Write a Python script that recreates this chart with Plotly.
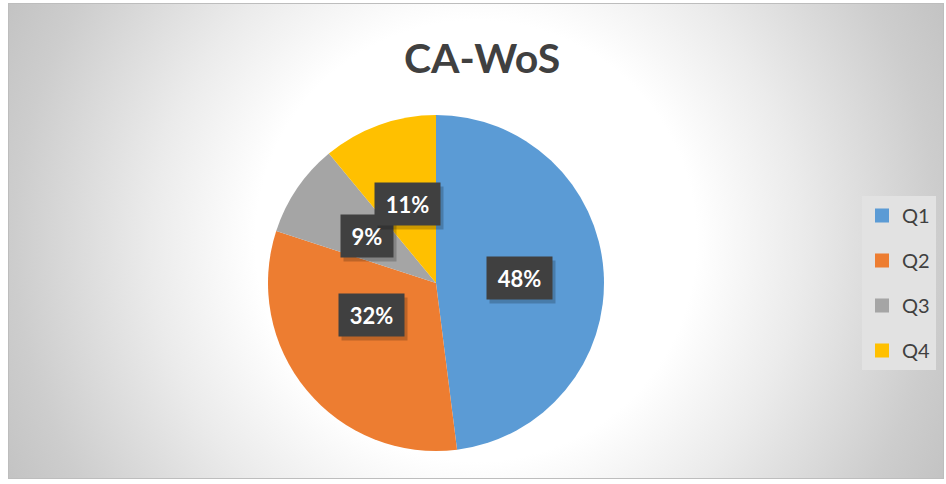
import base64
import math
import plotly.graph_objects as go

# ---------------- data ----------------
title_text = "CA-WoS"
categories = ["Q1", "Q2", "Q3", "Q4"]
values = [48, 32, 9, 11]
label_texts = ["48%", "32%", "9%", "11%"]
colors = ["#5B9BD5", "#ED7D31", "#A5A5A5", "#FFC000"]

# ---------------- layout constants ----------------
W, H = 946, 484
CX, CY, R = 436, 283, 168  # pie centre / radius in pixels

# radial gradient background as svg
svg = f'''<svg xmlns="http://www.w3.org/2000/svg" width="936" height="476" viewBox="0 0 936 476">
<defs><radialGradient id="g" gradientUnits="userSpaceOnUse" cx="468" cy="238" r="525">
<stop offset="0" stop-color="#ffffff"/>
<stop offset="0.42" stop-color="#ffffff"/>
<stop offset="0.62" stop-color="#ebebeb"/>
<stop offset="0.88" stop-color="#cdcdcd"/>
<stop offset="1" stop-color="#c3c3c3"/>
</radialGradient></defs>
<rect x="0.5" y="0.5" width="935" height="475" fill="url(#g)" stroke="#bdbdbd" stroke-width="1"/>
</svg>'''
svg_uri = "data:image/svg+xml;base64," + base64.b64encode(svg.encode()).decode()

fig = go.Figure()

fig.add_trace(go.Pie(
    labels=categories,
    values=values,
    sort=False,
    direction="clockwise",
    rotation=0,
    marker=dict(colors=colors, line=dict(width=0)),
    textinfo="none",
    hoverinfo="label+percent",
    showlegend=False,
    domain=dict(x=[(CX - R) / W, (CX + R) / W], y=[(H - CY - R) / H, (H - CY + R) / H]),
))

# legend entries (one group each to get Excel-like spacing)
for cat, col in zip(categories, colors):
    fig.add_trace(go.Scatter(
        x=[None], y=[None], mode="markers", name=cat, legendgroup=cat,
        marker=dict(symbol="square", size=14, color=col),
        showlegend=True, hoverinfo="skip",
    ))

annotations = []
total = sum(values)
cum = 0.0
for v, txt in zip(values, label_texts):
    mid = (cum + v / 2) / total * 2 * math.pi
    cum += v
    px = CX + 0.5 * R * math.sin(mid)
    py = CY - 0.5 * R * math.cos(mid)
    w = 24 + 13 * len(txt)
    # shadow
    annotations.append(dict(
        x=px / W, y=1 - py / H, xref="paper", yref="paper", text=" ",
        showarrow=False, width=w, height=40, bgcolor="rgba(0,0,0,0.2)",
        xshift=3, yshift=-4, font=dict(size=20),
    ))
    annotations.append(dict(
        x=px / W, y=1 - py / H, xref="paper", yref="paper",
        text=f"<b>{txt}</b>", showarrow=False, width=w, height=40,
        bgcolor="#404040", font=dict(family="Lato", size=22, color="#ffffff"),
    ))

annotations.append(dict(
    x=481.5 / W, y=1 - 57 / H, xref="paper", yref="paper", xanchor="center", yanchor="middle",
    text=f"<b>{title_text}</b>", showarrow=False,
    font=dict(family="Lato", size=41, color="#404040"),
))

fig.update_layout(
    width=W, height=H,
    margin=dict(l=0, r=0, t=0, b=0),
    paper_bgcolor="#ffffff",
    plot_bgcolor="rgba(0,0,0,0)",
    xaxis=dict(visible=False),
    yaxis=dict(visible=False),
    images=[dict(source=svg_uri, xref="paper", yref="paper", x=8 / W, y=1 - 3 / H,
                 sizex=936 / W, sizey=476 / H, xanchor="left", yanchor="top",
                 sizing="stretch", layer="below")],
    annotations=annotations,
    legend=dict(
        x=862 / W, y=1 - 196 / H, xanchor="left", yanchor="top",
        bgcolor="#e2e2e2", borderwidth=0,
        font=dict(family="Lato", size=20, color="#404040"),
        tracegroupgap=16, itemwidth=30,
    ),
)

fig.write_html("out.html", config={"displayModeBar": False},
               post_script="document.body.style.margin='0';")
